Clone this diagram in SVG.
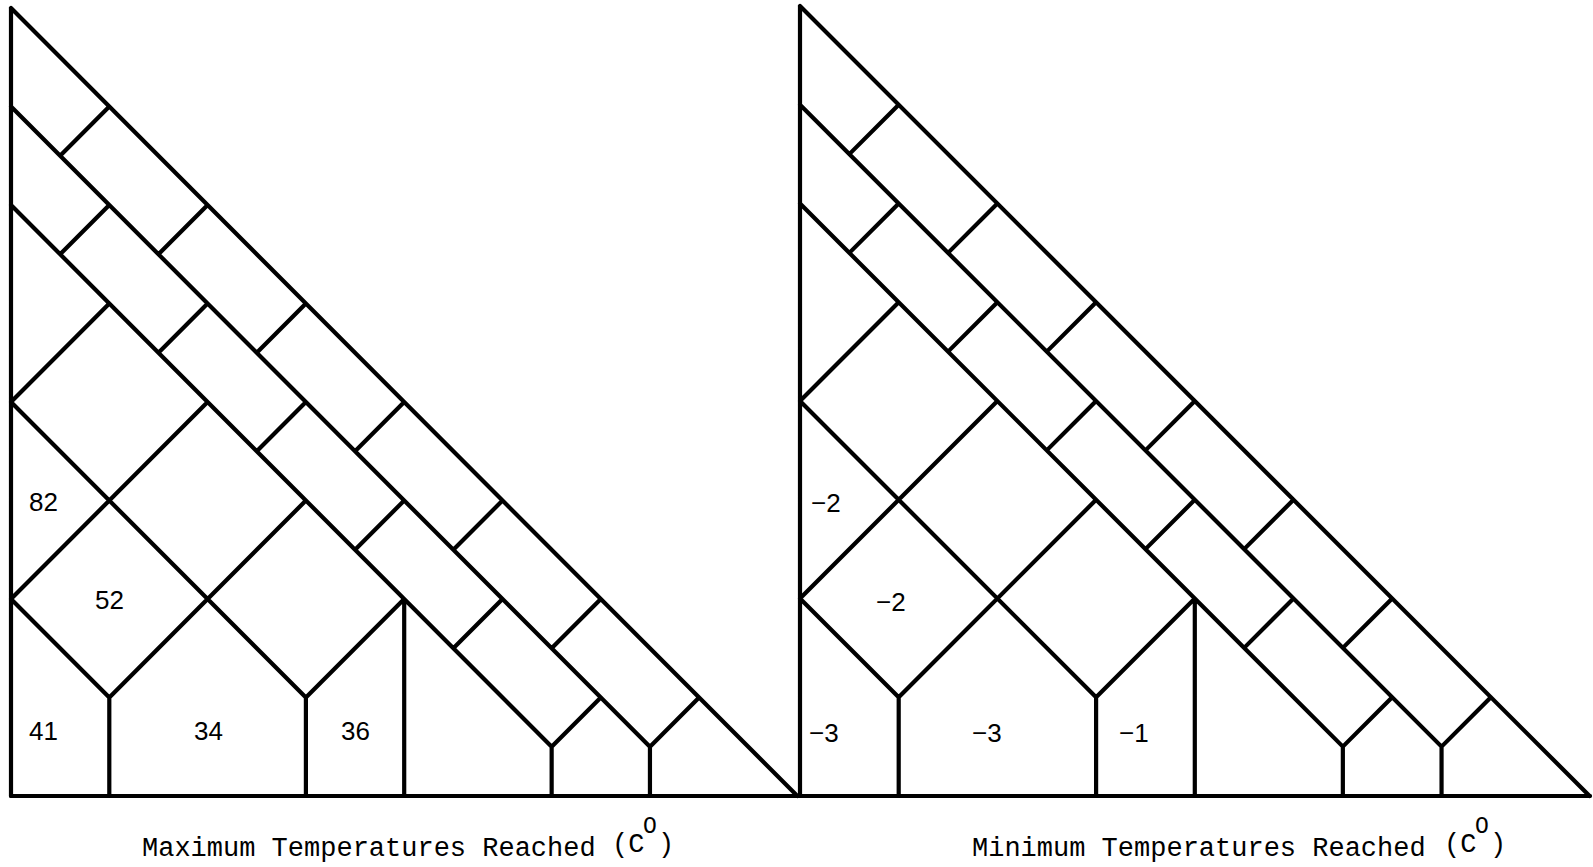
<svg xmlns="http://www.w3.org/2000/svg" xmlns:xlink="http://www.w3.org/1999/xlink" width="1593" height="867" viewBox="0 0 1593 867">
  <style>
    .ln { fill: none; stroke: #000; stroke-width: 4.2; stroke-linecap: round; stroke-linejoin: round; vector-effect: non-scaling-stroke; }
    .base { fill: none; stroke: #000; stroke-width: 4.2; stroke-linecap: round; }
    .val { font-family: "Liberation Sans", Arial, sans-serif; font-size: 26px; fill: #000; }
    .cap { font-family: "Liberation Mono", "Courier New", monospace; font-size: 27px; fill: #000; }
    .sup { font-family: "Liberation Mono", "Courier New", monospace; font-size: 23px; fill: #000; }
  </style>
  <defs>
    <path id="lattice" class="ln" d="M0,0 L0,8 M0,0 L8,8 M0,1 L6.5,7.5 M0,2 L5.5,7.5 M0,4 L3,7 M0,6 L1,7 M1,1 L0.5,1.5 M2,2 L1.5,2.5 M3,3 L2.5,3.5 M4,4 L3.5,4.5 M5,5 L4.5,5.5 M6,6 L5.5,6.5 M7,7 L6.5,7.5 M1,2 L0.5,2.5 M2,3 L1.5,3.5 M3,4 L2.5,4.5 M4,5 L3.5,5.5 M5,6 L4.5,6.5 M6,7 L5.5,7.5 M1,3 L0,4 M2,4 L0,6 M3,5 L1,7 M4,6 L3,7 M1,7 L1,8 M3,7 L3,8 M4,6 L4,8 M5.5,7.5 L5.5,8 M6.5,7.5 L6.5,8"/>
  </defs>
  <g id="max-triangle">
    <use xlink:href="#lattice" transform="translate(11,8) scale(98.3,98.5)"/>
  </g>
  <g id="min-triangle">
    <use xlink:href="#lattice" transform="translate(800,6) scale(98.7,98.75)"/>
  </g>
  <g id="baseline">
    <path class="base" d="M11,796 L1590,796"/>
  </g>
  <g id="max-values">
    <text class="val" x="29" y="511">82</text>
    <text class="val" x="95" y="609">52</text>
    <text class="val" x="29" y="740">41</text>
    <text class="val" x="194" y="740">34</text>
    <text class="val" x="341" y="740">36</text>
  </g>
  <g id="min-values">
    <text class="val" x="811" y="512">−2</text>
    <text class="val" x="876" y="611">−2</text>
    <text class="val" x="809" y="742">−3</text>
    <text class="val" x="972" y="742">−3</text>
    <text class="val" x="1119" y="742">−1</text>
  </g>
  <g id="max-caption">
    <text class="cap" x="142" y="856">Maximum Temperatures Reached</text>
    <text class="cap" x="612" y="852">(C</text>
    <text class="sup" x="643" y="833">O</text>
    <text class="cap" x="658" y="852">)</text>
  </g>
  <g id="min-caption">
    <text class="cap" x="972" y="856">Minimum Temperatures Reached</text>
    <text class="cap" x="1444" y="852">(C</text>
    <text class="sup" x="1475" y="833">O</text>
    <text class="cap" x="1490" y="852">)</text>
  </g>
</svg>
